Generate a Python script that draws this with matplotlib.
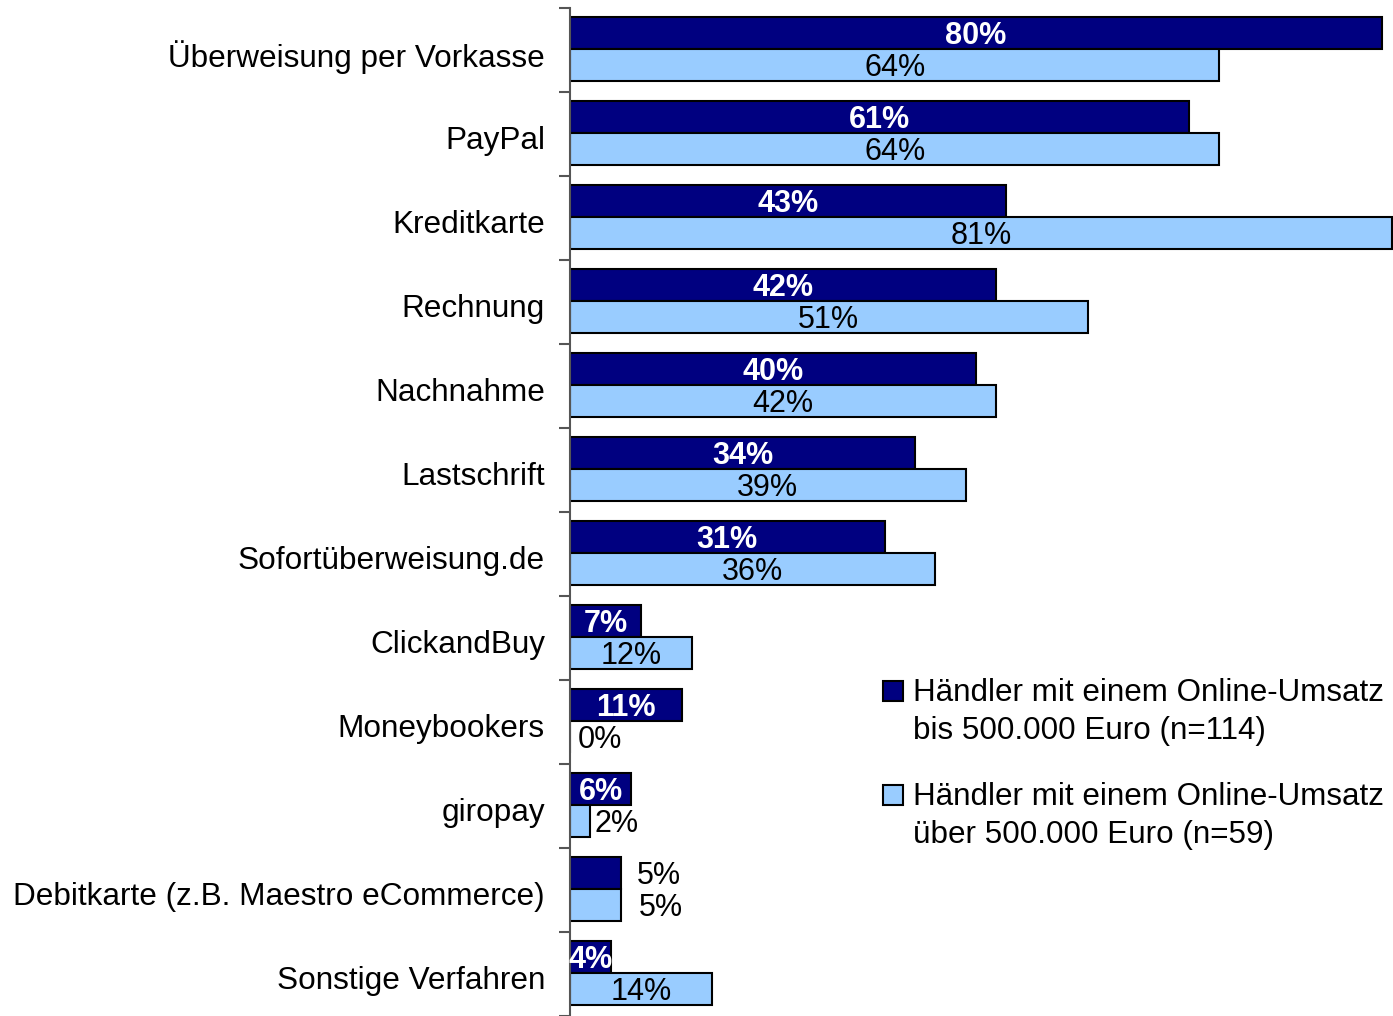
import matplotlib.pyplot as plt
from matplotlib.patches import Rectangle

plt.rcParams['font.family'] = ['Liberation Sans', 'DejaVu Sans']

kategorien = ["Überweisung per Vorkasse", "PayPal", "Kreditkarte", "Rechnung",
              "Nachnahme", "Lastschrift", "Sofortüberweisung.de", "ClickandBuy",
              "Moneybookers", "giropay", "Debitkarte (z.B. Maestro eCommerce)",
              "Sonstige Verfahren"]
bis_500k = [80, 61, 43, 42, 40, 34, 31, 7, 11, 6, 5, 4]
ueber_500k = [64, 64, 81, 51, 42, 39, 36, 12, 0, 2, 5, 14]
legende = ["Händler mit einem Online-Umsatz\nbis 500.000 Euro (n=114)",
           "Händler mit einem Online-Umsatz\nüber 500.000 Euro (n=59)"]

dunkel = "#000080"
hell = "#99CCFF"

W, H = 1393, 1016
fig = plt.figure(figsize=(W / 100, H / 100), dpi=100)
ax = fig.add_axes([570 / W, 0.0, 823 / W, 1 - 8 / H])

y = list(range(len(kategorien)))
h = 0.385
y_d = [i - 0.205 for i in y]
y_h = [i + 0.18 for i in y]

ax.barh(y_d, bis_500k, height=h, color=dunkel, edgecolor="black", linewidth=1.5)
ax.barh(y_h, ueber_500k, height=h, color=hell, edgecolor="black", linewidth=1.5)

# Beschriftungen: meist mittig im Balken, bei sehr kleinen Werten rechts daneben
aussen_d = {10: 1.6}
aussen_h = {8: 0.8, 9: 0.4, 10: 1.8}
dy = 0.035
for i in y:
    v = bis_500k[i]
    if i in aussen_d:
        ax.text(v + aussen_d[i], y_d[i] + dy, f"{v}%", ha="left", va="center",
                fontsize=22, color="black")
    else:
        ax.text(v / 2, y_d[i] + dy, f"{v}%", ha="center", va="center",
                fontsize=22, color="white", fontweight="bold")
    v = ueber_500k[i]
    if i in aussen_h:
        ax.text(v + aussen_h[i], y_h[i] + dy, f"{v}%", ha="left", va="center",
                fontsize=22, color="black")
    else:
        ax.text(v / 2, y_h[i] + dy, f"{v}%", ha="center", va="center",
                fontsize=22, color="black")

ax.set_xlim(0, 81.1)
ax.set_ylim(11.46, -0.5)
ax.set_yticks([i + 0.04 for i in y])
ax.set_yticklabels(kategorien, fontsize=22.7)
ax.tick_params(axis="y", length=0, pad=18)
ax.set_yticks([i - 0.5 for i in range(len(kategorien) + 1)], minor=True)
ax.tick_params(axis="y", which="minor", length=8, width=1.5, color="#555555")
ax.set_xticks([])
for s in ["top", "right", "bottom"]:
    ax.spines[s].set_visible(False)
ax.spines["left"].set_linewidth(1.5)
ax.spines["left"].set_color("#555555")

# Legende von Hand, Quadrat auf Höhe der ersten Zeile
for k, (farbe, text) in enumerate(zip([dunkel, hell], legende)):
    top = 681 + k * 104
    fig.patches.append(Rectangle((883 / W, 1 - (top + 20) / H), 20 / W, 20 / H,
                                 transform=fig.transFigure, facecolor=farbe,
                                 edgecolor="black", linewidth=1.5))
    fig.text(913 / W, 1 - (top - 3) / H, text, ha="left", va="top",
             fontsize=22.6, linespacing=1.33)

fig.savefig("out.png", dpi=100)
